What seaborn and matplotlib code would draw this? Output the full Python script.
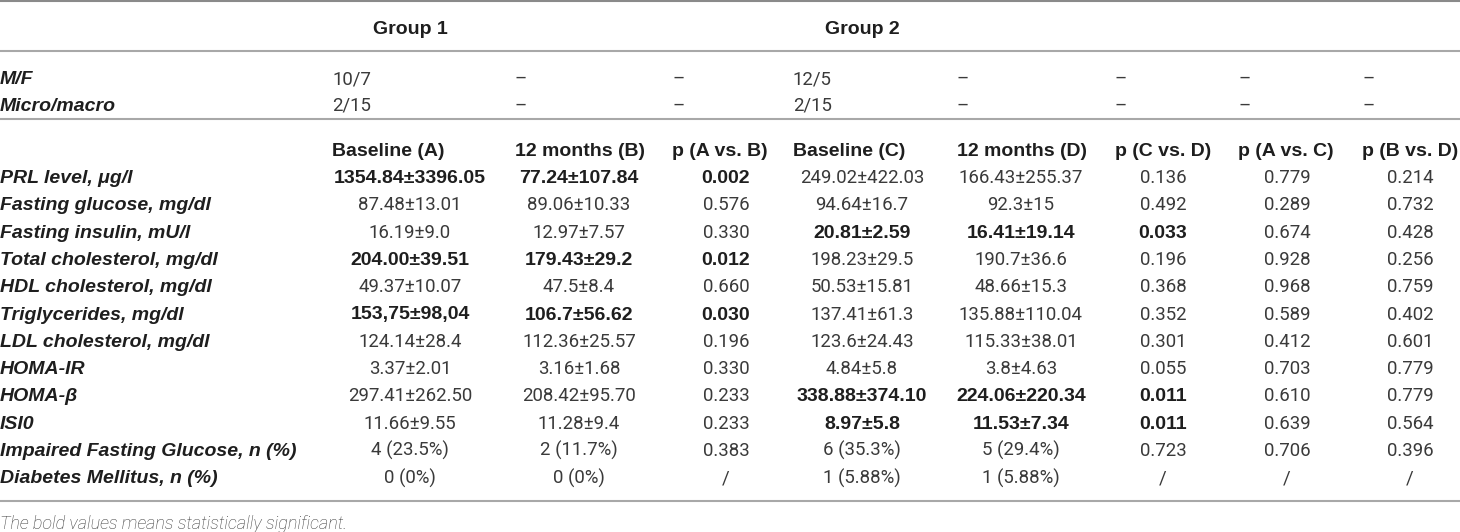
import matplotlib
matplotlib.use("Agg")
import matplotlib.pyplot as plt
import seaborn as sns
from matplotlib import font_manager

# table content
row_labels = ["PRL level, μg/l", "Fasting glucose, mg/dl", "Fasting insulin, mU/l",
              "Total cholesterol, mg/dl", "HDL cholesterol, mg/dl", "Triglycerides, mg/dl",
              "LDL cholesterol, mg/dl", "HOMA-IR", "HOMA-β", "ISI0",
              "Impaired Fasting Glucose, n (%)", "Diabetes Mellitus, n (%)"]
col_headers = ["Baseline (A)", "12 months (B)", "p (A vs. B)", "Baseline (C)",
               "12 months (D)", "p (C vs. D)", "p (A vs. C)", "p (B vs. D)"]
base_a = ["1354.84±3396.05", "87.48±13.01", "16.19±9.0", "204.00±39.51", "49.37±10.07",
          "153,75±98,04", "124.14±28.4", "3.37±2.01", "297.41±262.50", "11.66±9.55",
          "4 (23.5%)", "0 (0%)"]
month12_b = ["77.24±107.84", "89.06±10.33", "12.97±7.57", "179.43±29.2", "47.5±8.4",
             "106.7±56.62", "112.36±25.57", "3.16±1.68", "208.42±95.70", "11.28±9.4",
             "2 (11.7%)", "0 (0%)"]
p_ab = ["0.002", "0.576", "0.330", "0.012", "0.660", "0.030", "0.196", "0.330", "0.233",
        "0.233", "0.383", "/"]
base_c = ["249.02±422.03", "94.64±16.7", "20.81±2.59", "198.23±29.5", "50.53±15.81",
          "137.41±61.3", "123.6±24.43", "4.84±5.8", "338.88±374.10", "8.97±5.8",
          "6 (35.3%)", "1 (5.88%)"]
month12_d = ["166.43±255.37", "92.3±15", "16.41±19.14", "190.7±36.6", "48.66±15.3",
             "135.88±110.04", "115.33±38.01", "3.8±4.63", "224.06±220.34", "11.53±7.34",
             "5 (29.4%)", "1 (5.88%)"]
p_cd = ["0.136", "0.492", "0.033", "0.196", "0.368", "0.352", "0.301", "0.055", "0.011",
        "0.011", "0.723", "/"]
p_ac = ["0.779", "0.289", "0.674", "0.928", "0.968", "0.589", "0.412", "0.703", "0.610",
        "0.639", "0.706", "/"]
p_bd = ["0.214", "0.732", "0.428", "0.256", "0.759", "0.402", "0.601", "0.779", "0.779",
        "0.564", "0.396", "/"]
# significant rows per group (bold)
bold_g1 = ["PRL level, μg/l", "Total cholesterol, mg/dl", "Triglycerides, mg/dl"]
bold_g2 = ["Fasting insulin, mU/l", "HOMA-β", "ISI0"]
mf = ["10/7", "12/5"]
micro_macro = ["2/15", "2/15"]
footnote = "The bold values means statistically significant."

sns.set_theme(style="white")
names = {f.name for f in font_manager.fontManager.ttflist}
bold_font = "Liberation Sans"
light_font = "Roboto" if "Roboto" in names else "Liberation Sans"

# layout (pixels)
col_left = [332, 515, 672, 793, 957, 1115, 1238, 1362]
col_mid = [410, 579, 726, 862, 1021, 1163, 1287, 1410]
row_y0, row_dy = 176, 27.3
dy_base = 7

fig = plt.figure(figsize=(14.6, 5.32), dpi=100)
ax = fig.add_axes([0, 0, 1, 1])
ax.set_xlim(0, 1460)
ax.set_ylim(532, 0)
ax.axis("off")

for yy, c in [(1, "#8a8a8a"), (51, "#a8a8a8"), (119, "#a8a8a8"), (501, "#a8a8a8")]:
    ax.axhline(yy, color=c, lw=1.5)

lab_kw = dict(family=bold_font, fontsize=14, fontweight="bold", color="#1e1e1e", va="baseline")
val_kw = dict(family=light_font, fontsize=13.4, fontweight="normal", color="#3a3a3a", va="baseline")
bval_kw = dict(family=bold_font, fontsize=14, fontweight="bold", color="#1e1e1e", va="baseline")

ax.text(col_mid[0], 27 + dy_base, "Group 1", ha="center", **lab_kw)
ax.text(col_mid[3], 27 + dy_base, "Group 2", ha="center", **lab_kw)

ax.text(0, 77 + dy_base, "M/F", style="italic", **lab_kw)
ax.text(0, 104 + dy_base, "Micro/macro", style="italic", **lab_kw)
for yy, vals in [(77, mf), (104, micro_macro)]:
    ax.text(col_left[0], yy + dy_base, vals[0], **val_kw)
    ax.text(col_left[3], yy + dy_base, vals[1], **val_kw)
    for j in [1, 2, 4, 5, 6, 7]:
        ax.text(col_left[j], yy + dy_base, "–", **val_kw)

for j, h in enumerate(col_headers):
    ax.text(col_left[j], 149 + dy_base, h, **lab_kw)

columns = [base_a, month12_b, p_ab, base_c, month12_d, p_cd, p_ac, p_bd]
for i, lab in enumerate(row_labels):
    y = row_y0 + i * row_dy + dy_base
    ax.text(0, y, lab, style="italic", **lab_kw)
    for j, col in enumerate(columns):
        if j in (0, 1, 2):
            is_bold = lab in bold_g1
        elif j in (3, 4, 5):
            is_bold = lab in bold_g2
        else:
            is_bold = False
        ax.text(col_mid[j], y, col[i], ha="center", **(bval_kw if is_bold else val_kw))

ax.text(0, 522 + dy_base, footnote, family=light_font, fontsize=13, fontweight="light",
        style="italic", color="#3a3a3a", va="baseline")

fig.savefig("out.png", dpi=100)
